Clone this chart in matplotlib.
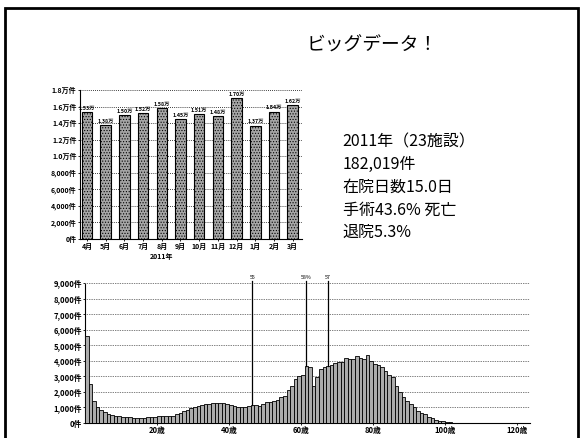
import matplotlib
matplotlib.use("Agg")
from matplotlib import pyplot as plt
from matplotlib.patches import Rectangle
import numpy as np

plt.rcParams['font.family'] = ['Noto Sans CJK JP', 'DejaVu Sans']
plt.rcParams['hatch.color'] = '#444444'
plt.rcParams['hatch.linewidth'] = 0.5

# monthly cases, fiscal 2011
months = ['4月', '5月', '6月', '7月', '8月', '9月', '10月', '11月', '12月', '1月', '2月', '3月']
monthly = [15300, 13800, 15000, 15200, 15800, 14500, 15100, 14800, 17000, 13700, 15400, 16200]
month_ticks = [0, 2000, 4000, 6000, 8000, 10000, 12000, 14000, 16000, 18000]
month_tick_labels = ['0件', '2,000件', '4,000件', '6,000件', '8,000件',
                     '1.0万件', '1.2万件', '1.4万件', '1.6万件', '1.8万件']

# cases by age (0..108歳)
age_counts = [5600, 2500, 1400, 1000, 850, 700, 600, 540, 480, 440,
              400, 380, 360, 350, 340, 340, 350, 360, 380, 400,
              420, 430, 420, 440, 480, 560, 650, 760, 850, 950,
              1050, 1100, 1150, 1200, 1230, 1260, 1300, 1300, 1280, 1240,
              1180, 1100, 1060, 1040, 1050, 1080, 1150, 1180, 1120, 1250,
              1350, 1380, 1400, 1500, 1700, 1750, 2100, 2400, 2850, 3050,
              3100, 3650, 3600, 2400, 2950, 3500, 3600, 3650, 3750, 3850,
              3900, 3950, 4150, 4100, 4100, 4300, 4200, 4100, 4350, 4000,
              3800, 3700, 3600, 3350, 3100, 2950, 2400, 2000, 1700, 1400,
              1200, 1000, 800, 650, 550, 400, 300, 200, 150, 100,
              60, 40, 25, 15, 10, 5, 3, 2, 1]
age_ticks = [20, 40, 60, 80, 100, 120]
age_yticks = [0, 1000, 2000, 3000, 4000, 5000, 6000, 7000, 8000, 9000]
age_ytick_labels = ['0件', '1,000件', '2,000件', '3,000件', '4,000件', '5,000件',
                    '6,000件', '7,000件', '8,000件', '9,000件']
marker_ages = [46, 61, 67]
marker_labels = ['55', '58%', '57']

fig = plt.figure(figsize=(5.82, 4.38), dpi=100)

# slide frame
fig.add_artist(Rectangle((0.0086, -0.05), 0.984, 1.0317, transform=fig.transFigure,
                         fill=False, edgecolor='black', linewidth=2.0))

fig.text(0.527, 0.897, 'ビッグデータ！', fontsize=13.5, ha='left', va='center')
summary = ['2011年（23施設）', '182,019件', '在院日数15.0日', '手術43.6% 死亡', '退院5.3%']
for i, line in enumerate(summary):
    fig.text(0.589, 0.675 - i * 0.0515, line, fontsize=11.5, ha='left', va='center')

# monthly bars
ax1 = fig.add_axes([0.1375, 0.4543, 0.3815, 0.3402])
x = np.arange(len(months))
ax1.bar(x, monthly, width=0.56, facecolor='#a6a6a6', edgecolor='black',
        linewidth=0.8, hatch='......', zorder=3)
for xi, v in zip(x, monthly):
    ax1.text(xi, v + 150, f'{v / 10000:.2f}万', fontsize=3.8, ha='center', va='bottom',
             fontweight='bold')
ax1.set_xlim(-0.37, 11.5)
ax1.set_ylim(0, 18000)
ax1.set_yticks(month_ticks)
ax1.set_yticklabels(month_tick_labels, fontsize=5, fontweight='bold')
ax1.set_xticks(x)
ax1.set_xticklabels(months, fontsize=5, fontweight='bold')
ax1.text(4, -1700, '2011年', fontsize=5, fontweight='bold', ha='center', va='top')
ax1.tick_params(length=1.5, width=0.6, pad=1)
ax1.yaxis.grid(True, linestyle=(0, (1, 1.5)), color='black', linewidth=0.6)
for s in ['top', 'right']:
    ax1.spines[s].set_visible(False)
ax1.spines['left'].set_linewidth(0.8)
ax1.spines['bottom'].set_linewidth(0.8)

# age distribution
ax2 = fig.add_axes([0.146, 0.0342, 0.7647, 0.3196])
ages = np.arange(len(age_counts))
ax2.bar(ages, age_counts, width=1.0, align='edge', facecolor='#acacac',
        edgecolor='black', linewidth=0.6, zorder=3)
for a, lab in zip(marker_ages, marker_labels):
    ax2.plot([a + 0.5, a + 0.5], [age_counts[a], 9150], color='black', linewidth=0.9,
             clip_on=False, zorder=4)
    ax2.text(a + 0.5, 9200, lab, fontsize=3.8, ha='center', va='bottom', clip_on=False)
ax2.set_xlim(0, 123.6)
ax2.set_ylim(0, 9000)
ax2.set_yticks(age_yticks)
ax2.set_yticklabels(age_ytick_labels, fontsize=5.5, fontweight='bold')
ax2.set_xticks(age_ticks)
ax2.set_xticklabels([f'{a}歳' for a in age_ticks], fontsize=5.5, fontweight='bold')
ax2.tick_params(length=1.5, width=0.6, pad=0.5)
ax2.yaxis.grid(True, linestyle=(0, (1, 1.5)), color='black', linewidth=0.5)
for s in ['top', 'right']:
    ax2.spines[s].set_visible(False)
ax2.spines['left'].set_linestyle((0, (1, 1)))
ax2.spines['bottom'].set_linewidth(0.8)

fig.savefig('out.png', dpi=100)
